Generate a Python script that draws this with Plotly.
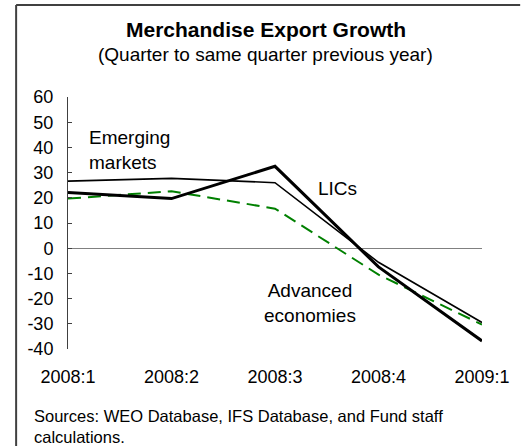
import plotly.graph_objects as go

quarters = ["2008:1", "2008:2", "2008:3", "2008:4", "2009:1"]
emerging = [26.6, 27.7, 26.0, -5.6, -29.5]
lics = [22.1, 19.7, 32.5, -7.4, -36.8]
advanced = [19.7, 22.6, 15.7, -10.5, -30.3]
y_ticks = [60, 50, 40, 30, 20, 10, 0, -10, -20, -30, -40]
y_tick_labels = [str(v) for v in y_ticks]

W, H = 522, 446
L, R, T, B = 68, 31, 97, 97
pw, ph = W - L - R, H - T - B

def px(x):
    return (x - L) / pw

def py(y):
    return (H - B - y) / ph

FONT = "Liberation Sans, Arial, sans-serif"

fig = go.Figure()
fig.add_trace(go.Scatter(x=quarters, y=advanced, mode="lines",
                         line=dict(color="#008000", width=2, dash="13px,7px"),
                         name="Advanced economies"))
fig.add_trace(go.Scatter(x=quarters, y=emerging, mode="lines",
                         line=dict(color="black", width=1.6),
                         name="Emerging markets"))
fig.add_trace(go.Scatter(x=quarters, y=lics, mode="lines",
                         line=dict(color="black", width=3),
                         name="LICs"))

fig.update_layout(
    width=W, height=H,
    margin=dict(l=L, r=R, t=T, b=B, pad=0),
    paper_bgcolor="white", plot_bgcolor="white",
    showlegend=False,
    font=dict(family=FONT, color="black"),
    xaxis=dict(type="category", range=[0, 4], showgrid=False, zeroline=False,
               showline=False, ticks="", tickfont=dict(size=18),
               ticklabelstandoff=15),
    yaxis=dict(range=[-40, 60], tickvals=y_ticks, ticktext=y_tick_labels,
               showgrid=False,
               zeroline=True, zerolinecolor="#808080", zerolinewidth=1.2,
               showline=True, linecolor="#404040", linewidth=1,
               ticks="inside", ticklen=4, tickcolor="#404040",
               tickfont=dict(size=18), ticklabelstandoff=10),
    shapes=[
        dict(type="line", xref="paper", yref="paper",
             x0=px(15), x1=px(15), y0=py(5), y1=py(450),
             line=dict(color="#404040", width=2)),
        dict(type="line", xref="paper", yref="paper",
             x0=px(15), x1=px(530), y0=py(5), y1=py(5),
             line=dict(color="#404040", width=2)),
    ],
    annotations=[
        dict(text="<b>Merchandise Export Growth</b>", xref="paper", yref="paper",
             x=px(270), y=py(29), showarrow=False, font=dict(size=21),
             xanchor="center", yanchor="middle"),
        dict(text="(Quarter to same quarter previous year)", xref="paper", yref="paper",
             x=px(270), y=py(55), showarrow=False, font=dict(size=19),
             xanchor="center", yanchor="middle"),
        dict(text="Emerging<br>markets", xref="paper", yref="paper",
             x=px(87), y=py(150), showarrow=False, font=dict(size=19),
             xanchor="left", yanchor="middle", align="left"),
        dict(text="LICs", xref="paper", yref="paper",
             x=px(343), y=py(188), showarrow=False, font=dict(size=19),
             xanchor="center", yanchor="middle"),
        dict(text="Advanced<br>economies", xref="paper", yref="paper",
             x=px(315), y=py(303), showarrow=False, font=dict(size=19),
             xanchor="center", yanchor="middle", align="center"),
        dict(text="Sources: WEO Database, IFS Database, and Fund staff<br>calculations.",
             xref="paper", yref="paper", x=px(31), y=py(426), showarrow=False,
             font=dict(size=16.5), xanchor="left", yanchor="middle", align="left"),
    ],
)

fig.write_html("out.html", config={"displayModeBar": False},
               post_script="document.body.style.margin='0';document.body.style.overflow='hidden';")
